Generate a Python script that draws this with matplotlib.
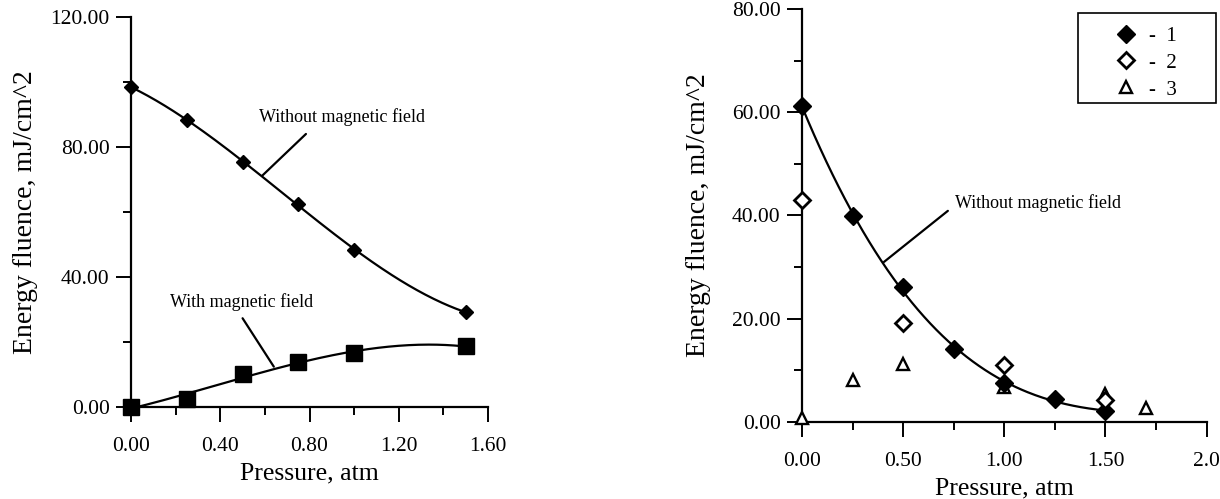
import numpy as np
import matplotlib
matplotlib.use("Agg")
import matplotlib.pyplot as plt
from matplotlib.patches import Rectangle
from matplotlib.ticker import MultipleLocator, FormatStrFormatter, FixedFormatter, FixedLocator

plt.rcParams.update({
    "font.family": "Liberation Serif",
    "font.size": 15,
    "axes.linewidth": 1.6,
})

# ── left panel data ──────────────────────────────────────────────
p_left = [0.0, 0.25, 0.5, 0.75, 1.0, 1.5]
e_without = [98.5, 88.2, 75.4, 62.6, 48.2, 29.2]
e_with = [0.0, 2.6, 10.3, 13.7, 16.6, 18.7]

# ── right panel data ─────────────────────────────────────────────
p1 = [0.0, 0.25, 0.5, 0.75, 1.0, 1.25, 1.5]
e1 = [61.2, 39.9, 26.2, 14.2, 7.6, 4.4, 2.1]
p2 = [0.0, 0.5, 1.0, 1.5]
e2 = [43.0, 19.1, 11.1, 4.2]
p3 = [0.0, 0.25, 0.5, 1.0, 1.5, 1.7]
e3 = [0.8, 8.1, 11.2, 6.7, 5.5, 2.8]

ylabel = "Energy fluence, mJ/cm^2"
xlabel = "Pressure, atm"

fig = plt.figure(figsize=(12.2, 4.99), dpi=100)
ax1 = fig.add_axes([0.1074, 0.1844, 0.2926, 0.7816])
ax2 = fig.add_axes([0.6574, 0.1543, 0.3316, 0.8277])


def style(ax):
    for s in ("top", "right"):
        ax.spines[s].set_visible(False)
    ax.tick_params(which="major", direction="out", length=10.5, width=1.4, labelsize=15.5)
    ax.tick_params(which="minor", direction="out", length=5.5, width=1.4)
    ax.tick_params(axis="x", which="major", pad=11)
    ax.tick_params(axis="y", which="major", pad=5)


def fit_curve(x, y, deg, x_end):
    c = np.polyfit(x, y, deg)
    xs = np.linspace(0, x_end, 200)
    return xs, np.polyval(c, xs)


# ── left ─────────────────────────────────────────────────────────
style(ax1)
ax1.set_xlim(0, 1.6)
ax1.set_ylim(0, 120)
ax1.xaxis.set_major_locator(MultipleLocator(0.4))
ax1.xaxis.set_minor_locator(MultipleLocator(0.2))
ax1.yaxis.set_major_locator(MultipleLocator(40))
ax1.yaxis.set_minor_locator(MultipleLocator(20))
ax1.xaxis.set_major_formatter(FormatStrFormatter("%.2f"))
ax1.yaxis.set_major_formatter(FormatStrFormatter("%.2f"))

xs, ys = fit_curve(p_left, e_without, 3, 1.5)
ax1.plot(xs, ys, color="black", lw=1.6, clip_on=False)
xs, ys = fit_curve(p_left, e_with, 3, 1.5)
ax1.plot(xs, ys, color="black", lw=1.6, clip_on=False)
ax1.plot(p_left, e_without, "D", color="black", ms=7, clip_on=False, zorder=5)
ax1.plot(p_left, e_with, "s", color="black", ms=12, clip_on=False, zorder=5)

ax1.set_xlabel(xlabel, fontsize=18.5, labelpad=5)
ax1.set_ylabel(ylabel, fontsize=20, labelpad=9)

ax1.text(0.574, 89.2, "Without magnetic field", fontsize=13, ha="left", va="center")
ax1.annotate("", xy=(0.587, 71.1), xytext=(0.784, 84.0),
             arrowprops=dict(arrowstyle="-", color="black", lw=1.6, shrinkA=0, shrinkB=0))
ax1.text(0.175, 32.3, "With magnetic field", fontsize=13, ha="left", va="center")
ax1.annotate("", xy=(0.64, 12.4), xytext=(0.50, 27.3),
             arrowprops=dict(arrowstyle="-", color="black", lw=1.6, shrinkA=0, shrinkB=0))

# ── right ────────────────────────────────────────────────────────
style(ax2)
ax2.set_xlim(0, 2.0)
ax2.set_ylim(0, 80)
ax2.xaxis.set_major_locator(FixedLocator([0.0, 0.5, 1.0, 1.5, 2.0]))
ax2.xaxis.set_major_formatter(FixedFormatter(["0.00", "0.50", "1.00", "1.50", "2.0"]))
ax2.xaxis.set_minor_locator(MultipleLocator(0.25))
ax2.yaxis.set_major_locator(MultipleLocator(20))
ax2.yaxis.set_minor_locator(MultipleLocator(10))
ax2.yaxis.set_major_formatter(FormatStrFormatter("%.2f"))

xs, ys = fit_curve(p1, e1, 3, 1.5)
ax2.plot(xs, ys, color="black", lw=1.6, clip_on=False)
ax2.plot(p3, e3, "^", mfc="white", mec="black", mew=1.7, ms=9, clip_on=False, zorder=4, label="-  3")
ax2.plot(p1, e1, "D", color="black", ms=9, clip_on=False, zorder=5, label="-  1")
ax2.plot(p2, e2, "D", mfc="white", mec="black", mew=2.0, ms=8, clip_on=False, zorder=6, label="-  2")

# legend frame drawn separately so it can be wider than its content
fig.patches.append(Rectangle((0.8836, 0.7936), 0.1131, 0.1804, transform=fig.transFigure,
                             fill=False, edgecolor="black", lw=1.2, zorder=10))
handles, labels = ax2.get_legend_handles_labels()
order = [1, 2, 0]
leg = fig.legend([handles[i] for i in order], [labels[i] for i in order],
                 loc="center", bbox_to_anchor=(0.9394, 0.8738), frameon=False,
                 fontsize=15, handlelength=1.0, handletextpad=0.6,
                 borderpad=0.0, labelspacing=0.35)

ax2.set_xlabel(xlabel, fontsize=18.5, labelpad=5)
ax2.set_ylabel(ylabel, fontsize=20, labelpad=15)

ax2.text(0.755, 42.4, "Without magnetic field", fontsize=13, ha="left", va="center")
ax2.annotate("", xy=(0.405, 31.0), xytext=(0.721, 40.9),
             arrowprops=dict(arrowstyle="-", color="black", lw=1.6, shrinkA=0, shrinkB=0))

fig.savefig("out.png", dpi=100)
